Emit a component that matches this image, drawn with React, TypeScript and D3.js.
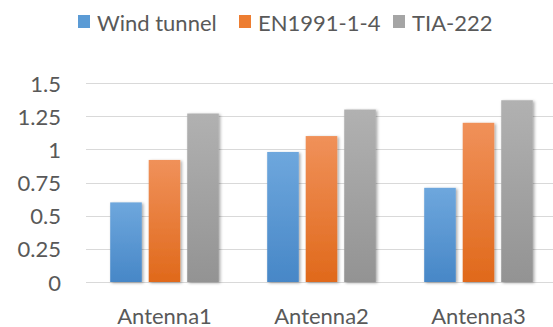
import React from "react";
import * as d3 from "d3";

const categories = ["Antenna1", "Antenna2", "Antenna3"];
const seriesNames = ["Wind tunnel", "EN1991-1-4", "TIA-222"];
const windTunnel = [0.6, 0.98, 0.71];
const en1991 = [0.92, 1.1, 1.2];
const tia222 = [1.27, 1.3, 1.37];
const yTicks = [0, 0.25, 0.5, 0.75, 1, 1.25, 1.5];

const seriesValues = [windTunnel, en1991, tia222];
const palette = [
  { top: "#6ea7dd", bottom: "#4787c7", swatch: "#5b9bd5" },
  { top: "#f0915a", bottom: "#e0691b", swatch: "#ed7d31" },
  { top: "#b1b1b1", bottom: "#939393", swatch: "#a5a5a5" },
];

const W = 553;
const H = 327;
const FONT = "Lato, 'Open Sans', sans-serif";
const FS = 22;
const TEXT = "#595959";

export default function App() {
  const x0 = d3.scaleBand<string>().domain(categories).range([86, 557]);
  const x1 = d3
    .scaleBand<string>()
    .domain(seriesNames)
    .range([-54.3, 54.3])
    .paddingInner(0.18);
  const y = d3.scaleLinear().domain([0, 1.5]).range([282, 83]);

  const legendX = [78, 239, 393];

  return (
    <svg
      width={W}
      height={H}
      style={{ position: "absolute", left: 0, top: 0, background: "#fff" }}
    >
      <defs>
        {palette.map((c, i) => (
          <linearGradient key={i} id={`grad${i}`} x1="0" y1="0" x2="0" y2="1">
            <stop offset="0" stopColor={c.top} />
            <stop offset="1" stopColor={c.bottom} />
          </linearGradient>
        ))}
        <filter id="shadow" x="-20%" y="-10%" width="150%" height="120%">
          <feDropShadow dx="1.5" dy="1" stdDeviation="1.4" floodColor="#000" floodOpacity="0.35" />
        </filter>
      </defs>

      {/* legend */}
      {seriesNames.map((name, i) => (
        <g key={name}>
          <rect x={legendX[i]} y={15} width={12} height={13} fill={palette[i].swatch} />
          <text
            x={legendX[i] + 19}
            y={22}
            dominantBaseline="central"
            fontFamily={FONT}
            fontSize={FS}
            fill={TEXT}
          >
            {name}
          </text>
        </g>
      ))}

      {/* gridlines */}
      {yTicks.map((t) => (
        <line
          key={t}
          x1={86}
          x2={553}
          y1={Math.round(y(t)) + 0.5}
          y2={Math.round(y(t)) + 0.5}
          stroke="#d9d9d9"
          strokeWidth={1.2}
        />
      ))}

      {/* y tick labels */}
      {yTicks.map((t) => (
        <text
          key={t}
          x={61}
          y={y(t)}
          textAnchor="end"
          dominantBaseline="central"
          fontFamily={FONT}
          fontSize={FS}
          fill={TEXT}
        >
          {String(t)}
        </text>
      ))}

      {/* bars */}
      {categories.map((cat, ci) => (
        <g key={cat} transform={`translate(${x0(cat)! + x0.bandwidth() / 2},0)`}>
          {seriesNames.map((s, si) => {
            const v = seriesValues[si][ci];
            return (
              <rect
                key={s}
                x={x1(s)!}
                y={y(v)}
                width={x1.bandwidth()}
                height={y(0) - y(v)}
                fill={`url(#grad${si})`}
                filter="url(#shadow)"
              />
            );
          })}
        </g>
      ))}

      {/* x labels */}
      {categories.map((cat) => (
        <text
          key={cat}
          x={x0(cat)! + x0.bandwidth() / 2}
          y={315}
          textAnchor="middle"
          dominantBaseline="central"
          fontFamily={FONT}
          fontSize={FS}
          fill={TEXT}
        >
          {cat}
        </text>
      ))}
    </svg>
  );
}
